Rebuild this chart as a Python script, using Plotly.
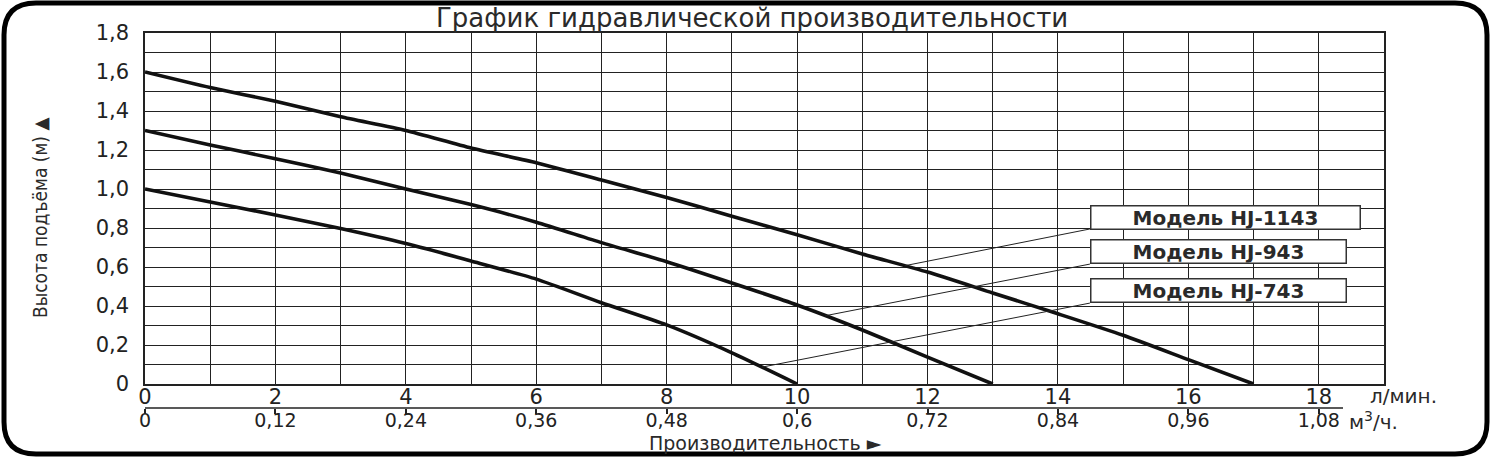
import plotly.graph_objects as go
import numpy as np

# ---------------- data ----------------
flow_1143 = [0, 1, 2, 3, 4, 5, 6, 7, 8, 9, 10, 11, 12, 13, 14, 15, 16, 17]
head_1143 = [1.60, 1.52, 1.45, 1.37, 1.30, 1.21, 1.135, 1.046, 0.957, 0.86, 0.765, 0.667, 0.574, 0.467, 0.36, 0.25, 0.125, 0.0]

flow_943 = [0, 1, 2, 3, 4, 5, 6, 7, 8, 9, 10, 11, 12, 13]
head_943 = [1.30, 1.226, 1.155, 1.082, 1.0, 0.92, 0.83, 0.725, 0.627, 0.518, 0.405, 0.277, 0.138, 0.0]

flow_743 = [0, 1, 2, 3, 4, 5, 6, 7, 8, 9, 10]
head_743 = [1.0, 0.933, 0.867, 0.797, 0.72, 0.631, 0.538, 0.417, 0.303, 0.16, 0.0]

model_names = ["Модель HJ-1143", "Модель HJ-943", "Модель HJ-743"]
leader_x = [11.65, 10.43, 9.46]          # where each label's leader touches its curve
label_y = [0.856, 0.677, 0.482]           # label box centres
label_bottom = [0.795, 0.615, 0.415]      # label box lower edges
label_x = 14.49
label_widths = [268, 254, 254]

x_tickvals = [0, 2, 4, 6, 8, 10, 12, 14, 16, 18]
x_ticktext = ["0", "2", "4", "6", "8", "10", "12", "14", "16", "18"]
x_minor = list(range(0, 20))
m3_tickvals = [0, 2, 4, 6, 8, 10, 12, 14, 16, 18]
m3_ticktext = ["0", "0,12", "0,24", "0,36", "0,48", "0,6", "0,72", "0,84", "0,96", "1,08"]
y_tickvals = [0, 0.2, 0.4, 0.6, 0.8, 1.0, 1.2, 1.4, 1.6, 1.8]
y_ticktext = ["0", "0,2", "0,4", "0,6", "0,8", "1,0", "1,2", "1,4", "1,6", "1,8"]
y_minor = [round(i * 0.1, 1) for i in range(19)]

# ---------------- layout helpers ----------------
W, H = 1492, 458
ML, MR, MT, MB = 145, 108, 33, 50
PW, PH = W - ML - MR, H - MT - MB


def P(px, py):
    return (px - ML) / PW, (H - MB - py) / PH


def fmt(px, py):
    x, y = P(px, py)
    return f"{x:.5f},{y:.5f}"


# rounded border
x0, y0, x1, y1, r = 4, 3, 1487, 454, 32
border = (f"M {fmt(x0 + r, y0)} L {fmt(x1 - r, y0)} Q {fmt(x1, y0)} {fmt(x1, y0 + r)} "
          f"L {fmt(x1, y1 - r)} Q {fmt(x1, y1)} {fmt(x1 - r, y1)} "
          f"L {fmt(x0 + r, y1)} Q {fmt(x0, y1)} {fmt(x0, y1 - r)} "
          f"L {fmt(x0, y0 + r)} Q {fmt(x0, y0)} {fmt(x0 + r, y0)} Z")

fig = go.Figure()
line_style = dict(color="#111111", width=3.6, shape="spline", smoothing=0.6)
for fx, hy, nm in [(flow_1143, head_1143, model_names[0]),
                   (flow_943, head_943, model_names[1]),
                   (flow_743, head_743, model_names[2])]:
    fig.add_trace(go.Scatter(x=fx, y=hy, mode="lines", line=line_style, name=nm,
                             showlegend=False, hoverinfo="skip"))

# invisible trace so the m3/h axis is drawn
fig.add_trace(go.Scatter(x=[0], y=[0], xaxis="x2", yaxis="y", mode="markers",
                         marker=dict(opacity=0), showlegend=False, hoverinfo="skip"))

shapes = [dict(type="path", path=border, xref="paper", yref="paper",
               line=dict(color="#000000", width=5), layer="above")]
# m3/h axis line
ax_l, _ = P(145, 408)
ax_r, _ = P(1343, 408)
shapes.append(dict(type="line", xref="paper", yref="paper", x0=ax_l, x1=ax_r, y0=0, y1=0,
                   line=dict(color="#222222", width=1.5)))

curves = [(flow_1143, head_1143), (flow_943, head_943), (flow_743, head_743)]
annotations = []
for i in range(3):
    cx, cy = curves[i]
    yy = float(np.interp(leader_x[i], cx, cy))
    shapes.append(dict(type="line", xref="x", yref="y", x0=leader_x[i], y0=yy,
                       x1=label_x, y1=label_bottom[i], line=dict(color="#222222", width=1)))
    annotations.append(dict(x=label_x, y=label_y[i], xref="x", yref="y", xanchor="left",
                            yanchor="middle", text=model_names[i], showarrow=False,
                            font=dict(family="DejaVu Sans", size=20, color="#2a2a2a", weight="bold"),
                            bgcolor="white", bordercolor="#333333", borderwidth=1.5,
                            borderpad=0, width=label_widths[i], height=22, align="center"))

tx, ty = P(752, 18)
annotations.append(dict(x=tx, y=ty, xref="paper", yref="paper", xanchor="center", yanchor="middle",
                        text="График гидравлической производительности", showarrow=False,
                        font=dict(family="DejaVu Sans", size=26, color="#2a2a2a")))
tx, ty = P(765, 443)
annotations.append(dict(x=tx, y=ty, xref="paper", yref="paper", xanchor="center", yanchor="middle",
                        text="Производительность ►", showarrow=False,
                        font=dict(family="DejaVu Sans", size=19, color="#2a2a2a")))
tx, ty = P(40, 218)
annotations.append(dict(x=tx, y=ty, xref="paper", yref="paper", xanchor="center", yanchor="middle",
                        text="Высота подъёма (м) ▲", showarrow=False, textangle=-90,
                        font=dict(family="Liberation Sans Narrow, DejaVu Sans Condensed, Liberation Sans",
                                  size=19, color="#2a2a2a")))
tx, ty = P(1368, 396)
annotations.append(dict(x=tx, y=ty, xref="paper", yref="paper", xanchor="left", yanchor="middle",
                        text="л/мин.", showarrow=False,
                        font=dict(family="DejaVu Sans", size=20, color="#2a2a2a")))
tx, ty = P(1347, 421)
annotations.append(dict(x=tx, y=ty, xref="paper", yref="paper", xanchor="left", yanchor="middle",
                        text="м<sup>3</sup>/ч.", showarrow=False,
                        font=dict(family="DejaVu Sans", size=20, color="#2a2a2a")))

ydom0 = (H - MB - 384) / PH
tick_font = dict(family="DejaVu Sans", size=21, color="#222222")
m3_font = dict(family="DejaVu Sans", size=19, color="#222222")
grid = dict(showgrid=True, gridcolor="#222222", gridwidth=1.3)

fig.update_layout(
    width=W, height=H,
    margin=dict(l=ML, r=MR, t=MT, b=MB, pad=0),
    paper_bgcolor="white", plot_bgcolor="white",
    shapes=shapes, annotations=annotations,
    xaxis=dict(range=[0, 19], tickvals=x_tickvals, ticktext=x_ticktext, **grid,
               minor=dict(tickvals=x_minor, ticks="", **grid),
               showline=True, linecolor="#222222",
               linewidth=1.5, mirror=True, zeroline=False, ticks="", tickfont=tick_font,
               ticklabelstandoff=-7, anchor="y", fixedrange=True),
    xaxis2=dict(range=[0, 19], overlaying="x", anchor="free", position=0, side="bottom",
                tickvals=m3_tickvals, ticktext=m3_ticktext, showgrid=False, showline=False,
                zeroline=False, ticks="outside", ticklen=5, tickwidth=1.5, tickcolor="#222222",
                tickfont=m3_font, ticklabelstandoff=-10, fixedrange=True),
    yaxis=dict(range=[0, 1.8], domain=[ydom0, 1], tickvals=y_tickvals, ticktext=y_ticktext,
               **grid, minor=dict(tickvals=y_minor, ticks="", **grid),
               showline=True, linecolor="#222222", linewidth=1.5, mirror=True,
               zeroline=False, ticks="", tickfont=tick_font, ticklabelstandoff=10,
               fixedrange=True),
)

fig.write_html("out.html", config={"displayModeBar": False},
               post_script="document.body.style.margin='0';")
